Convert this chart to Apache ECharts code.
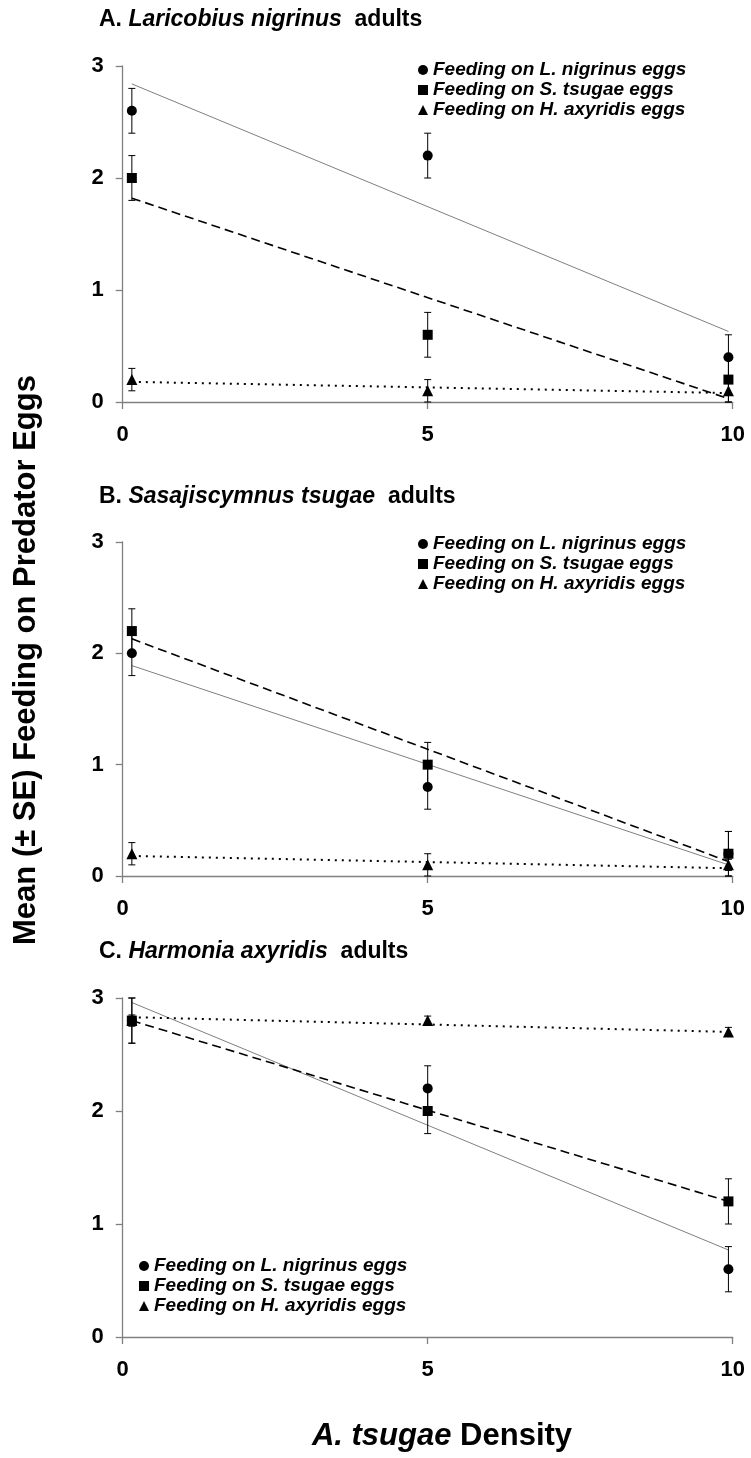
<!DOCTYPE html>
<html><head><meta charset="utf-8">
<script src="https://cdn.jsdelivr.net/npm/echarts@6/dist/echarts.min.js"></script>
<style>html,body{margin:0;padding:0;background:#fff}#c{width:751px;height:1458px}</style>
</head><body><div id="c"></div>
<script>
// ---- data ----
const densities = [0.15, 5, 9.93];          // A. tsugae density (x positions of the points)
const xTickValues = [0, 5, 10];
const yTickValues = [0, 1, 2, 3];
const seriesNames = ['Feeding on L. nigrinus eggs', 'Feeding on S. tsugae eggs', 'Feeding on H. axyridis eggs'];
const panelLetters = ['A. ', 'B. ', 'C. '];
const panelSpecies = ['Laricobius nigrinus', 'Sasajiscymnus tsugae', 'Harmonia axyridis'];

// Panel A: Laricobius nigrinus adults
const aLnMean = [2.6, 2.2, 0.4];  const aLnSE = [0.2, 0.2, 0.2];
const aStMean = [2.0, 0.6, 0.2];  const aStSE = [0.2, 0.2, 0.2];
const aHaMean = [0.2, 0.1, 0.1];  const aHaSE = [0.1, 0.1, 0.1];
const aLnTrend = [2.84, 0.63];
const aStTrend = [1.82, 0.03];
const aHaTrend = [0.18, 0.08];

// Panel B: Sasajiscymnus tsugae adults
const bLnMean = [2.0, 0.8, 0.2];  const bLnSE = [0.2, 0.2, 0.2];
const bStMean = [2.2, 1.0, 0.2];  const bStSE = [0.2, 0.2, 0.2];
const bHaMean = [0.2, 0.1, 0.1];  const bHaSE = [0.1, 0.1, 0.05];
const bLnTrend = [1.89, 0.10];
const bStTrend = [2.13, 0.13];
const bHaTrend = [0.18, 0.07];

// Panel C: Harmonia axyridis adults
const cLnMean = [2.8, 2.2, 0.6];  const cLnSE = [0.2, 0.2, 0.2];
const cStMean = [2.8, 2.0, 1.2];  const cStSE = [0.2, 0.2, 0.2];
const cHaMean = [2.8, 2.8, 2.7];  const cHaSE = [0.05, 0.04, 0.04];
const cLnTrend = [2.96, 0.77];
const cStTrend = [2.80, 1.20];
const cHaTrend = [2.83, 2.70];

// ---- chart construction ----
const FONT = '"Liberation Sans", Arial, sans-serif';
const panels = [
  { groups: [[aLnMean, aLnSE, aLnTrend], [aStMean, aStSE, aStTrend], [aHaMean, aHaSE, aHaTrend]] },
  { groups: [[bLnMean, bLnSE, bLnTrend], [bStMean, bStSE, bStTrend], [bHaMean, bHaSE, bHaTrend]] },
  { groups: [[cLnMean, cLnSE, cLnTrend], [cStMean, cStSE, cStTrend], [cHaMean, cHaSE, cHaTrend]] }
];
const gridBoxes = [
  { top: 66, height: 336 },
  { top: 542, height: 334 },
  { top: 998, height: 339 }
];
const titleTops = [8, 485, 940];
const legendPos = [{ left: 418, top: 60 }, { left: 418, top: 534 }, { left: 139, top: 1256 }];
const symbols = ['circle', 'rect', 'triangle'];
const symbolSizes = [10, 10, 11];
const trendStyles = [
  { color: '#808080', width: 1, type: 'solid' },
  { color: '#000', width: 1.6, type: [9, 5] },
  { color: '#000', width: 2, type: [2, 5] }
];

const grid = [], xAxis = [], yAxis = [], series = [], title = [], legend = [];

function errorBarRender(params, api) {
  const x = api.value(0), lo = api.value(1), hi = api.value(2);
  const pLo = api.coord([x, lo]);
  const pHi = api.coord([x, hi]);
  const w = 3.5;
  const st = { stroke: '#000', lineWidth: 1 };
  return {
    type: 'group',
    children: [
      { type: 'line', shape: { x1: pLo[0], y1: pLo[1], x2: pHi[0], y2: pHi[1] }, style: st },
      { type: 'line', shape: { x1: pLo[0] - w, y1: pLo[1], x2: pLo[0] + w, y2: pLo[1] }, style: st },
      { type: 'line', shape: { x1: pHi[0] - w, y1: pHi[1], x2: pHi[0] + w, y2: pHi[1] }, style: st }
    ]
  };
}

panels.forEach((p, i) => {
  grid.push({ left: 122.7, width: 610, top: gridBoxes[i].top, height: gridBoxes[i].height, outerBoundsMode: 'none', containLabel: false });
  xAxis.push({
    type: 'value', gridIndex: i, min: xTickValues[0], max: xTickValues[xTickValues.length - 1], interval: 5,
    axisLine: { show: true, onZero: false, lineStyle: { color: '#808080', width: 1.3 } },
    axisTick: { show: true, length: 7, lineStyle: { color: '#808080', width: 1.3 } },
    axisLabel: { color: '#000', fontSize: 22, fontWeight: 'bold', fontFamily: FONT, margin: 22 },
    splitLine: { show: false }
  });
  yAxis.push({
    type: 'value', gridIndex: i, min: yTickValues[0], max: yTickValues[yTickValues.length - 1], interval: 1,
    axisLine: { show: true, lineStyle: { color: '#808080', width: 1.3 } },
    axisTick: { show: true, length: 7, lineStyle: { color: '#808080', width: 1.3 } },
    axisLabel: { color: '#000', fontSize: 22, fontWeight: 'bold', fontFamily: FONT, margin: 19 },
    splitLine: { show: false }
  });
  title.push({
    left: 99, top: titleTops[i], padding: 0,
    text: '{n|' + panelLetters[i] + '}{i|' + panelSpecies[i] + '}{n|  adults}',
    textStyle: {
      rich: {
        n: { fontSize: 23, fontWeight: 'bold', fontFamily: FONT, color: '#000' },
        i: { fontSize: 23, fontWeight: 'bold', fontStyle: 'italic', fontFamily: FONT, color: '#000' }
      }
    }
  });
  legend.push({
    orient: 'vertical', left: legendPos[i].left, top: legendPos[i].top, padding: 0,
    itemWidth: 10, itemHeight: 10, itemGap: 0, selectedMode: false,
    itemStyle: { opacity: 1, color: '#000' },
    data: seriesNames.map((n, g) => ({ name: n, icon: symbols[g] })),
    textStyle: { fontSize: 19, fontWeight: 'bold', fontStyle: 'italic', fontFamily: FONT, color: '#000', lineHeight: 20 }
  });
  p.groups.forEach((grp, g) => {
    const [mean, se, trend] = grp;
    series.push({
      type: 'line', name: 'trend ' + i + '-' + g, xAxisIndex: i, yAxisIndex: i, silent: true,
      symbol: 'none', z: 2,
      data: [[densities[0], trend[0]], [densities[densities.length - 1], trend[1]]],
      lineStyle: { color: trendStyles[g].color, width: trendStyles[g].width, type: trendStyles[g].type }
    });
    series.push({
      type: 'custom', name: 'se ' + i + '-' + g, xAxisIndex: i, yAxisIndex: i, silent: true, z: 3,
      renderItem: errorBarRender,
      encode: { x: 0, y: [1, 2] },
      data: densities.map((x, k) => [x, mean[k] - se[k], mean[k] + se[k]])
    });
    series.push({
      type: 'scatter', name: seriesNames[g], xAxisIndex: i, yAxisIndex: i, z: 5,
      symbol: symbols[g], symbolSize: symbolSizes[g],
      itemStyle: { color: '#000', opacity: 1 },
      data: densities.map((x, k) => [x, mean[k]])
    });
  });
});

const chart = echarts.init(document.getElementById('c'), null, { renderer: 'canvas' });
chart.setOption({
  animation: false,
  backgroundColor: '#fff',
  title, legend, grid, xAxis, yAxis, series,
  graphic: [
    {
      type: 'text', x: 26, y: 660, rotation: Math.PI / 2,
      style: {
        text: 'Mean (± SE) Feeding on Predator Eggs',
        fontSize: 31, fontWeight: 'bold', fontFamily: FONT, fill: '#000',
        align: 'center', verticalAlign: 'middle'
      }
    },
    {
      type: 'text', x: 442, y: 1436,
      style: {
        text: '{i|A. tsugae} Density',
        fontSize: 31, fontWeight: 'bold', fontFamily: FONT, fill: '#000',
        align: 'center', verticalAlign: 'middle',
        rich: { i: { fontSize: 31, fontWeight: 'bold', fontStyle: 'italic', fontFamily: FONT, fill: '#000' } }
      }
    }
  ]
});
</script></body></html>
